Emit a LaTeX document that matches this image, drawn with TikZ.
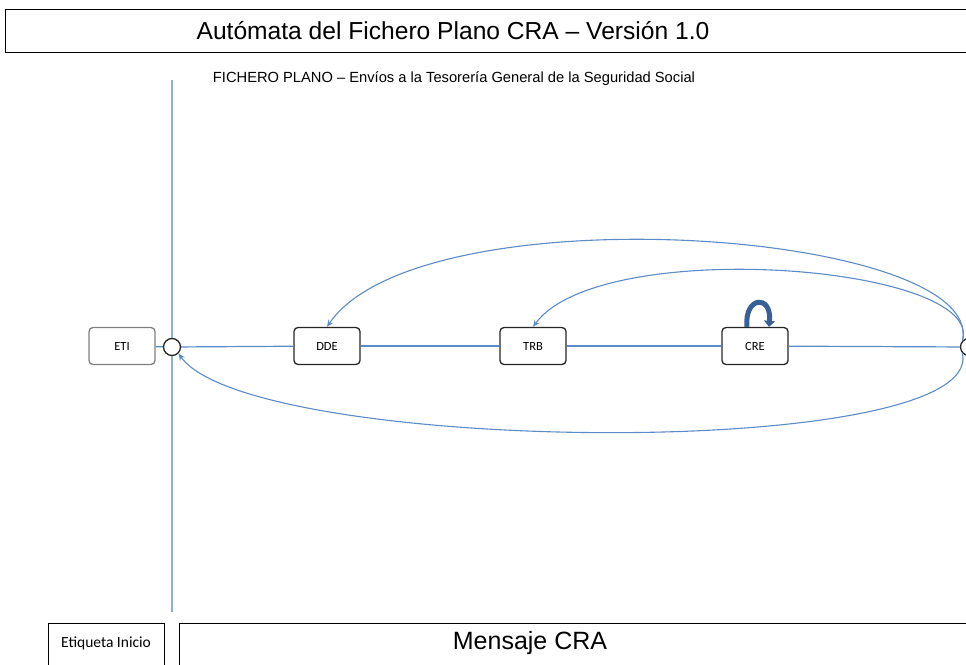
\documentclass[tikz,border=0pt]{standalone}
\usepackage{fontspec}
\setmainfont{Liberation Sans}
\newfontfamily\calfont{Carlito}
\usetikzlibrary{arrows.meta}
\definecolor{lineblue}{RGB}{91,139,200}
\definecolor{paleblue}{RGB}{140,175,218}
\definecolor{loopblue}{RGB}{55,96,150}
\begin{document}
\begin{tikzpicture}[x=1pt,y=-1pt]
        \useasboundingbox (0,0) rectangle (966,664);
        \clip (0,0) rectangle (966,664);

        % frames
        \draw[line width=1pt] (5,9) rectangle (990,52);
        \node (title) at (453,31) {\fontsize{24.6}{28}\selectfont Autómata del Fichero Plano CRA -- Versión 1.0};
        \node (sub) at (454,79) {\fontsize{14.7}{16}\selectfont FICHERO PLANO -- Envíos a la Tesorería General de la Seguridad Social};
        \draw[line width=1pt] (48,623) rectangle (164,690);
        \draw[line width=1pt] (179,623) rectangle (990,690);
        \node (etq) at (106,643) {\calfont\fontsize{15.5}{18}\selectfont Etiqueta Inicio};
        \node (msg) at (530,643) {\fontsize{25}{28}\selectfont Mensaje CRA};

        \coordinate (vtop) at (172,80);
        \coordinate (vbot) at (172,612);
        \draw[paleblue, line width=1.4pt] (vtop) -- (vbot);

        \begin{scope}[every node/.style={rectangle,rounded corners=4pt,draw=black!85,line width=1.3pt,
                    minimum width=66pt,minimum height=37pt,fill=white,
                    font=\calfont\fontsize{12.5}{14}\selectfont}]
            \node[draw=gray] (ETI) at (122,346) {ETI};
            \node (DDE) at (327,346) {DDE};
            \node (TRB) at (533,346) {TRB};
            \node (CRE) at (755,346) {CRE};
        \end{scope}

        \begin{scope}[every node/.style={circle,draw=black!85,line width=1.3pt,fill=white,
                    minimum size=17pt,inner sep=0pt}]
            \node (ini) at (172,347) {};
            \node (fin) at (969,347) {};
        \end{scope}

        \begin{scope}[every edge/.style={draw=lineblue,line width=1.2pt}]
            \path [-] (ETI) edge (ini);
            \path [-] (ini) edge (DDE);
            \path [-] (DDE) edge (TRB);
            \path [-] (TRB) edge (CRE);
            \path [-] (CRE) edge (fin);
        \end{scope}

        \begin{scope}[lineblue, line width=1.1pt, -{Stealth[length=7pt,width=6pt,inset=2.5pt]}]
            \draw (fin.north west) .. controls (985,230) and (420,190) .. (DDE.north);
            \draw (fin.north west) .. controls (985,265) and (600,235) .. (TRB.north);
            \draw (fin.south west) .. controls (985,462) and (250,455) .. (ini.south east);
        \end{scope}

        \draw[loopblue, line width=5pt, -{Triangle[length=6pt,width=11pt]}]
            ([xshift=-8pt]CRE.north) .. controls (744,296) and (772,294) .. ([xshift=14pt]CRE.north);
\end{tikzpicture}
\end{document}
